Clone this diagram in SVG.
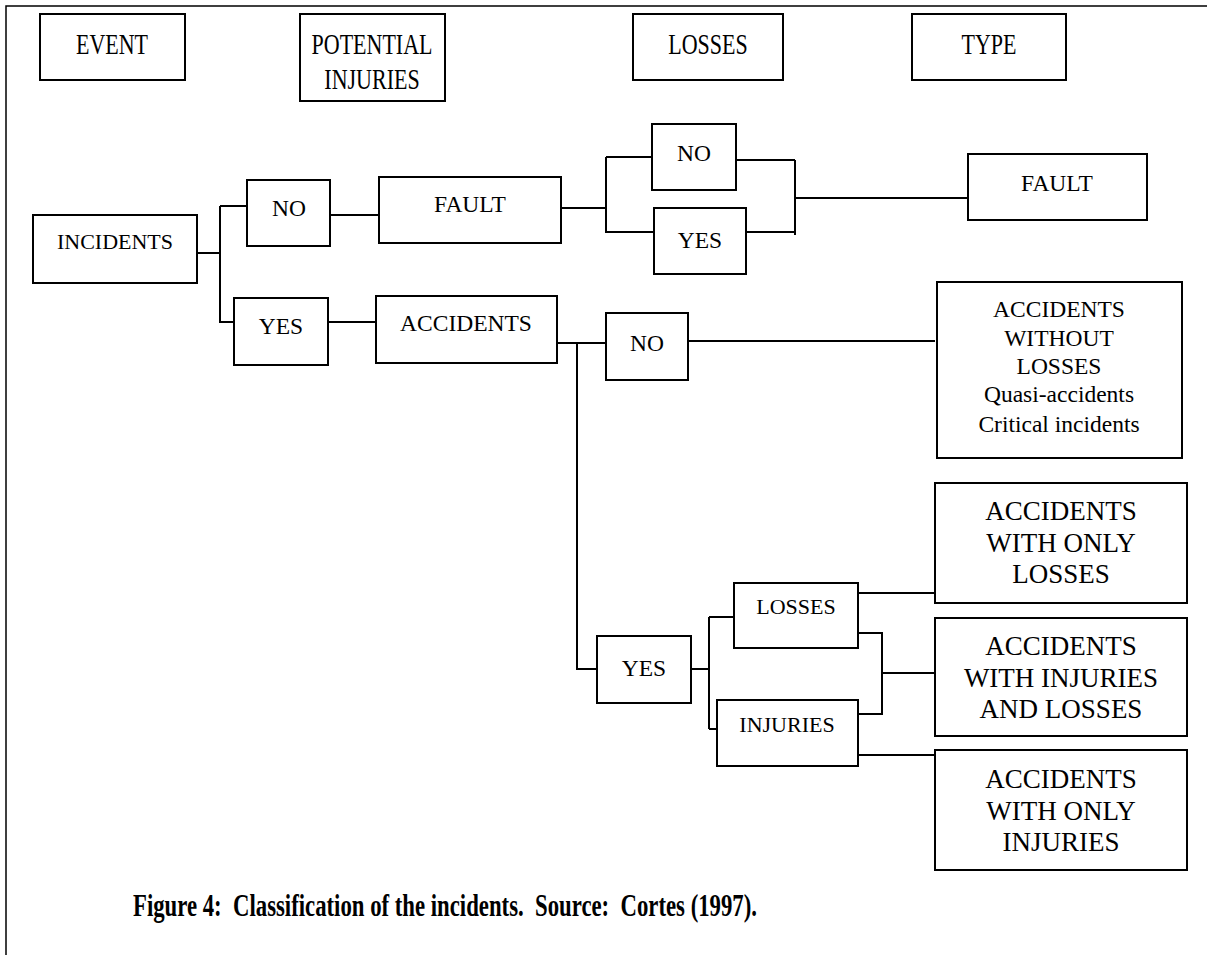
<svg xmlns="http://www.w3.org/2000/svg" width="1207" height="955" viewBox="0 0 1207 955">
<style>
rect{fill:#fff;stroke:#000;stroke-width:2}
.c path{stroke:#000;stroke-width:2;fill:none}
text{font-family:"Liberation Serif","Times New Roman",serif;fill:#000;text-anchor:middle}
.h{font-size:22px}
.s{font-size:22px}
.y{font-size:23.5px}
.f{font-size:23.5px}
.b{font-size:27px}
.m{font-size:23.5px}
.cap{font-size:25px;font-weight:bold;white-space:pre}
</style>
<rect x="0" y="0" width="1207" height="955" style="stroke:none"/>
<path d="M6,955 V6 H1207" style="stroke:#000;stroke-width:1.5;fill:none"/>

<g id="hdr-event"><rect x="40" y="14" width="145" height="66"/><text class="h" transform="translate(112,54) scale(1,1.3)">EVENT</text></g>
<g id="hdr-potential"><rect x="300" y="14" width="145" height="87"/><text class="h" transform="translate(372,54) scale(1,1.3)">POTENTIAL<tspan x="0" dy="27">INJURIES</tspan></text></g>
<g id="hdr-losses"><rect x="633" y="14" width="150" height="66"/><text class="h" transform="translate(708,54) scale(1,1.3)">LOSSES</text></g>
<g id="hdr-type"><rect x="912" y="14" width="154" height="66"/><text class="h" transform="translate(989,54) scale(1,1.3)">TYPE</text></g>

<g class="c" id="connectors">
<path d="M197,253 H220 M220,206 V323 M220,206 H247 M220,322 H234"/>
<path d="M330,215 H379"/>
<path d="M561,208 H606 M606,157 V233 M606,157 H652 M606,232 H654"/>
<path d="M736,160 H795 M746,232 H795 M795,160 V235 M795,198 H968"/>
<path d="M328,322 H376"/>
<path d="M557,343 H606 M577,343 V669 H597"/>
<path d="M688,341 H935"/>
<path d="M691,669 H709 M709,617 V729 M709,617 H734 M709,729 H717"/>
<path d="M858,593 H935"/>
<path d="M858,633 H882 V714 H856 M882,673 H935"/>
<path d="M858,755 H935"/>
</g>

<g id="incidents"><rect x="33" y="215" width="164" height="68"/><text class="s" x="115" y="249">INCIDENTS</text></g>
<g id="no1"><rect x="247" y="180" width="83" height="66"/><text class="y" x="289" y="216">NO</text></g>
<g id="fault1"><rect x="379" y="177" width="182" height="66"/><text class="f" x="470" y="212">FAULT</text></g>
<g id="no2"><rect x="652" y="124" width="84" height="66"/><text class="y" x="694" y="161">NO</text></g>
<g id="yes2"><rect x="654" y="208" width="92" height="66"/><text class="y" x="700" y="248">YES</text></g>
<g id="fault-type"><rect x="968" y="154" width="179" height="66"/><text class="f" x="1057" y="191">FAULT</text></g>
<g id="yes1"><rect x="234" y="298" width="94" height="67"/><text class="y" x="281" y="334">YES</text></g>
<g id="accidents"><rect x="376" y="296" width="181" height="67"/><text class="y" x="466" y="331">ACCIDENTS</text></g>
<g id="no3"><rect x="606" y="313" width="82" height="67"/><text class="y" x="647" y="351">NO</text></g>
<g id="acc-without"><rect x="937" y="282" width="245" height="176"/><text class="m" x="1059" y="317">ACCIDENTS<tspan x="1059" dy="29">WITHOUT</tspan><tspan x="1059" dy="28">LOSSES</tspan><tspan x="1059" dy="28">Quasi-accidents</tspan><tspan x="1059" dy="30">Critical incidents</tspan></text></g>
<g id="yes3"><rect x="597" y="636" width="94" height="67"/><text class="y" x="644" y="676">YES</text></g>
<g id="losses"><rect x="734" y="583" width="124" height="65"/><text class="s" x="796" y="614">LOSSES</text></g>
<g id="injuries"><rect x="717" y="700" width="141" height="66"/><text class="s" x="787" y="732">INJURIES</text></g>
<g id="acc-only-losses"><rect x="935" y="483" width="252" height="120"/><text class="b" x="1061" y="520">ACCIDENTS<tspan x="1061" dy="32">WITH ONLY</tspan><tspan x="1061" dy="31">LOSSES</tspan></text></g>
<g id="acc-inj-losses"><rect x="935" y="618" width="252" height="118"/><text class="b" x="1061" y="655">ACCIDENTS<tspan x="1061" dy="32">WITH INJURIES</tspan><tspan x="1061" dy="31">AND LOSSES</tspan></text></g>
<g id="acc-only-injuries"><rect x="935" y="750" width="252" height="120"/><text class="b" x="1061" y="788">ACCIDENTS<tspan x="1061" dy="32">WITH ONLY</tspan><tspan x="1061" dy="31">INJURIES</tspan></text></g>

<text class="cap" transform="translate(445,916) scale(1,1.25)" textLength="624" lengthAdjust="spacingAndGlyphs">Figure 4:  Classification of the incidents.  Source:  Cortes (1997).</text>
</svg>
